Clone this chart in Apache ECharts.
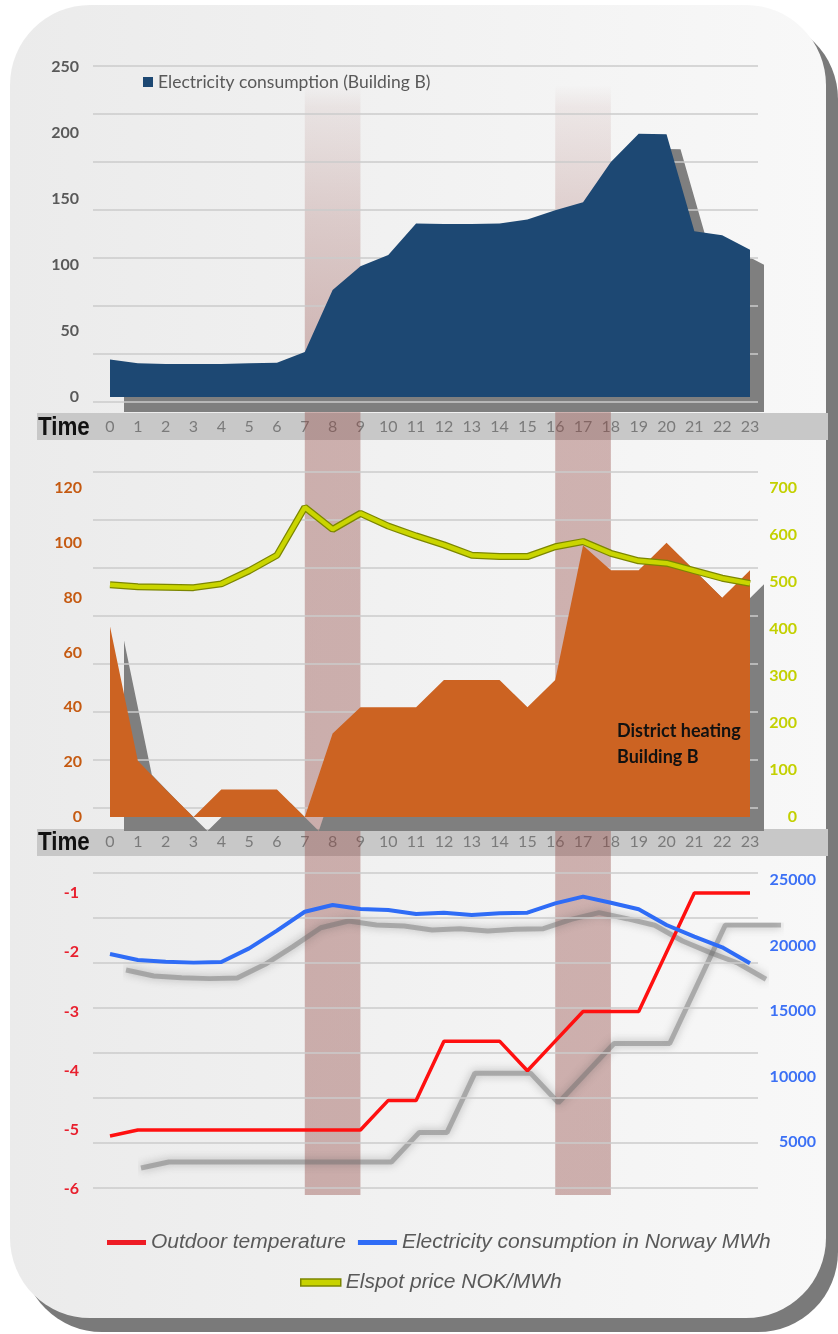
<!DOCTYPE html>
<html>
<head>
<meta charset="utf-8">
<script src="https://cdn.jsdelivr.net/npm/echarts@6/dist/echarts.min.js"></script>
<style>
html,body{margin:0;padding:0;background:#ffffff;}
#c{width:838px;height:1334px;}
</style>
</head>
<body>
<div id="c"></div>
<script>
// ---- data ----
const hours = ['0','1','2','3','4','5','6','7','8','9','10','11','12','13','14','15','16','17','18','19','20','21','22','23'];
const elecBuildingB = [28.5,25.5,25,25,25,25.5,26,34,81,99,107.5,131.5,131,131,131.5,134.5,141.5,147.5,178,199.5,199,125.5,122.5,111.5];
const districtHeating = [69.5,20.5,10,0,10,10,10,0,30.5,40,40,40,50,50,50,40,50,99,90,90,100,90,80,90];
const elspotPrice = [494,490,489,488,496,524,557,659,612,646,619,598,579,557,554,554,575,586,561,545,540,524,508,497];
const outdoorTemp = [-5.1,-5,-5,-5,-5,-5,-5,-5,-5,-5,-4.5,-4.5,-3.5,-3.5,-3.5,-4,-3.5,-3,-3,-3,-2,-1,-1,-1];
const norwayConsumption = [19360,18900,18770,18700,18750,19790,21140,22580,23090,22790,22710,22410,22510,22330,22460,22510,23220,23730,23270,22770,21570,20680,19870,18650];
const peakPeriods = [['7','9'],['16','18']];
const elecAxis = {min:0, max:250, step:50};
const heatAxis = {min:0, max:120, step:20};
const priceAxis = {min:0, max:700, step:100};
const tempAxis = {min:-6, max:-1, step:1};
const norwayAxis = {min:5000, max:25000, step:5000};

const NAMES = {
  elec: 'Electricity consumption (Building B)',
  heat: 'District heating Building B',
  price: 'Elspot price NOK/MWh',
  temp: 'Outdoor temperature',
  norway: 'Electricity consumption in Norway MWh'
};

const chart = echarts.init(document.getElementById('c'), null, {renderer:'canvas'});
const F = 'Lato, "Open Sans", sans-serif';
const FL = '"Liberation Sans", Arial, sans-serif';

function gridLineAxes(gi){
  return {
    x: {type:'value', gridIndex:gi, show:false, min:0, max:1},
    y: {type:'value', gridIndex:gi, min:0, max:7, interval:1, z:2,
        axisLabel:{show:false}, axisLine:{show:false}, axisTick:{show:false},
        splitLine:{show:true, lineStyle:{color:'#cbcbcb', width:1.5}}}
  };
}
const g0 = gridLineAxes(0), g2 = gridLineAxes(2), g4 = gridLineAxes(4);

function catAxis(gi, labelShow, margin){
  return {type:'category', gridIndex:gi, data:hours, boundaryGap:false,
    axisLine:{show:false}, axisTick:{show:false}, splitLine:{show:false},
    axisLabel:{show:labelShow, interval:0, margin:margin, color:'#7a7a7a', fontSize:16, fontFamily:F}};
}
function hiddenCat(gi){ return Object.assign(catAxis(gi,false,0), {show:false}); }
function valAxis(gi, a, pos, color, margin, align, fs){
  return {type:'value', gridIndex:gi, position:pos, min:a.min, max:a.max, interval:a.step,
    axisLine:{show:false}, axisTick:{show:false}, splitLine:{show:false},
    axisLabel:{color:color, fontWeight:'bold', fontSize:fs, fontFamily:F, margin:margin, align:align,
               formatter: v => String(v)}};
}
function hiddenVal(gi, a){ return {type:'value', gridIndex:gi, show:false, min:a.min, max:a.max, interval:a.step, splitLine:{show:false}}; }

const bandGradient = new echarts.graphic.LinearGradient(0,0,0,1,[
  {offset:0, color:'rgba(145,70,65,0)'},
  {offset:0.02, color:'rgba(145,70,65,0.08)'},
  {offset:0.12, color:'rgba(145,70,65,0.22)'},
  {offset:0.28, color:'rgba(145,70,65,0.38)'},
  {offset:1, color:'rgba(145,70,65,0.40)'}
]);

const shadowGray = '#7f7f7f';
const blurLine = {color:'rgba(110,110,110,0.45)', width:5, shadowColor:'rgba(80,80,80,0.85)', shadowBlur:9};

const option = {
  animation:false,
  backgroundColor:'#ffffff',
  grid:[
    {left:93, right:80, top:66, height:336},      // 0 gridlines top
    {left:110, right:88, top:67, height:330},     // 1 building B electricity
    {left:93, right:80, top:472, height:336},     // 2 gridlines middle
    {left:110, right:88, top:488, height:329},    // 3 heating + price
    {left:93, right:80, top:873, height:315},     // 4 gridlines bottom
    {left:110, right:88, top:893, height:296.3},  // 5 temperature
    {left:110, right:88, top:880, height:262.3},  // 6 norway
    {left:110, right:88, top:85, height:1110},    // 7 peak bands
    {left:124, right:74, top:82, height:330},     // 8 shadow of 1
    {left:124, right:74, top:502, height:329},    // 9 shadow of 3
    {left:141, right:57, top:925, height:296.3},  // 10 shadow of 5
    {left:126, right:72, top:896, height:262.3}   // 11 shadow of 6
  ],
  xAxis:[
    g0.x,
    catAxis(1, true, 22),
    g2.x,
    catAxis(3, true, 17),
    g4.x,
    hiddenCat(5),
    hiddenCat(6),
    hiddenCat(7),
    hiddenCat(8),
    hiddenCat(9),
    hiddenCat(10),
    hiddenCat(11)
  ],
  yAxis:[
    g0.y,                                                        // 0
    valAxis(1, elecAxis, 'left', '#595959', 31, 'right', 16),    // 1
    g2.y,                                                        // 2
    valAxis(3, heatAxis, 'left', '#c55a11', 28, 'right', 16),    // 3
    valAxis(3, priceAxis, 'right', '#c3d000', 47, 'right', 16),  // 4
    g4.y,                                                        // 5
    valAxis(5, tempAxis, 'left', '#e8202e', 31, 'right', 16),    // 6
    valAxis(6, norwayAxis, 'right', '#3b70f5', 66, 'right', 16), // 7
    {type:'value', gridIndex:7, show:false, min:0, max:1},       // 8
    hiddenVal(8, elecAxis),                                      // 9
    hiddenVal(9, heatAxis),                                      // 10
    hiddenVal(10, tempAxis),                                     // 11
    hiddenVal(11, norwayAxis)                                    // 12
  ],
  legend:[
    {data:[NAMES.elec], left:143, top:73, padding:0, icon:'rect', itemWidth:10, itemHeight:10,
     textStyle:{color:'#595959', fontSize:17.5, fontFamily:F}},
    {data:[NAMES.temp, NAMES.norway], left:107, top:1232, padding:0, icon:'rect', itemWidth:39, itemHeight:5, itemGap:12,
     textStyle:{color:'#595959', fontSize:21, fontStyle:'italic', fontFamily:FL}},
    {data:[{name:NAMES.price, itemStyle:{color:'#c8d300', borderColor:'#7c8600', borderWidth:1.5}}],
     left:300, top:1272, padding:0, icon:'rect', itemWidth:40, itemHeight:7,
     textStyle:{color:'#595959', fontSize:21, fontStyle:'italic', fontFamily:FL}}
  ],
  series:[
    // shadows (same data, drawn through offset grids)
    {name:'elec-shadow', type:'line', xAxisIndex:8, yAxisIndex:9, data:elecBuildingB, showSymbol:false, z:1, silent:true,
     lineStyle:{width:0}, itemStyle:{color:shadowGray}, areaStyle:{color:shadowGray, opacity:1}},
    {name:'heat-shadow', type:'line', xAxisIndex:9, yAxisIndex:10, data:districtHeating, showSymbol:false, z:1, silent:true,
     lineStyle:{width:0}, itemStyle:{color:shadowGray}, areaStyle:{color:shadowGray, opacity:1}},
    {name:'temp-shadow', type:'line', xAxisIndex:10, yAxisIndex:11, data:outdoorTemp, showSymbol:false, z:1, silent:true,
     lineStyle:blurLine},
    {name:'norway-shadow', type:'line', xAxisIndex:11, yAxisIndex:12, data:norwayConsumption, showSymbol:false, z:1, silent:true,
     lineStyle:blurLine},
    // main series
    {name:NAMES.elec, type:'line', xAxisIndex:1, yAxisIndex:1, data:elecBuildingB, showSymbol:false, z:3,
     itemStyle:{color:'#1d4873'}, lineStyle:{width:0},
     areaStyle:{color:'#1d4873', opacity:1}},
    {name:NAMES.heat, type:'line', xAxisIndex:3, yAxisIndex:3, data:districtHeating, showSymbol:false, z:3,
     itemStyle:{color:'#cc6322'}, lineStyle:{width:0},
     areaStyle:{color:'#cc6322', opacity:1}},
    {name:'elspot-outline', type:'line', xAxisIndex:3, yAxisIndex:4, data:elspotPrice, showSymbol:false, clip:false, z:4,
     lineStyle:{color:'#7c8600', width:7}, itemStyle:{color:'#7c8600'}},
    {name:NAMES.price, type:'line', xAxisIndex:3, yAxisIndex:4, data:elspotPrice, showSymbol:false, clip:false, z:5,
     lineStyle:{color:'#cad500', width:4.5}, itemStyle:{color:'#cad500'}},
    {name:NAMES.temp, type:'line', xAxisIndex:5, yAxisIndex:6, data:outdoorTemp, showSymbol:false, clip:false, z:4,
     itemStyle:{color:'#ee1c25'}, lineStyle:{color:'#ff1010', width:3.5}},
    {name:NAMES.norway, type:'line', xAxisIndex:6, yAxisIndex:7, data:norwayConsumption, showSymbol:false, clip:false, z:4,
     itemStyle:{color:'#2f6cf6'}, lineStyle:{color:'#2f6cf6', width:4}},
    {name:'peaks', type:'line', xAxisIndex:7, yAxisIndex:8, data:[], z:20, silent:true,
     markArea:{silent:true, itemStyle:{color:bandGradient},
       data: peakPeriods.map(p => [{xAxis:p[0]},{xAxis:p[1]}])}}
  ],
  graphic:[
    {type:'rect', z:-20, silent:true, shape:{x:22, y:19, width:816, height:1313, r:80}, style:{fill:'#7a7a7a'}},
    {type:'rect', z:-19, silent:true, shape:{x:10, y:5, width:816, height:1313, r:80},
     style:{fill:new echarts.graphic.LinearGradient(0,0,1,0,[{offset:0,color:'#ebebeb'},{offset:1,color:'#f8f8f8'}])}},
    {type:'rect', z:-10, silent:true, shape:{x:37, y:413, width:791, height:27}, style:{fill:'#c8c8c8'}},
    {type:'rect', z:-10, silent:true, shape:{x:37, y:829, width:791, height:27}, style:{fill:'#c8c8c8'}},
    {type:'text', z:1, silent:true, x:38, y:428, scaleX:0.86, style:{text:'Time', fill:'#111', font:'bold 26px "Liberation Sans", Arial, sans-serif', verticalAlign:'middle'}},
    {type:'text', z:1, silent:true, x:38, y:843, scaleX:0.86, style:{text:'Time', fill:'#111', font:'bold 26px "Liberation Sans", Arial, sans-serif', verticalAlign:'middle'}},
    {type:'text', z:10, silent:true, x:617, y:718, style:{text:'District heating\nBuilding B', fill:'#111', font:'bold 18px Lato, sans-serif', lineHeight:26}}
  ]
};
chart.setOption(option);
</script>
</body>
</html>
